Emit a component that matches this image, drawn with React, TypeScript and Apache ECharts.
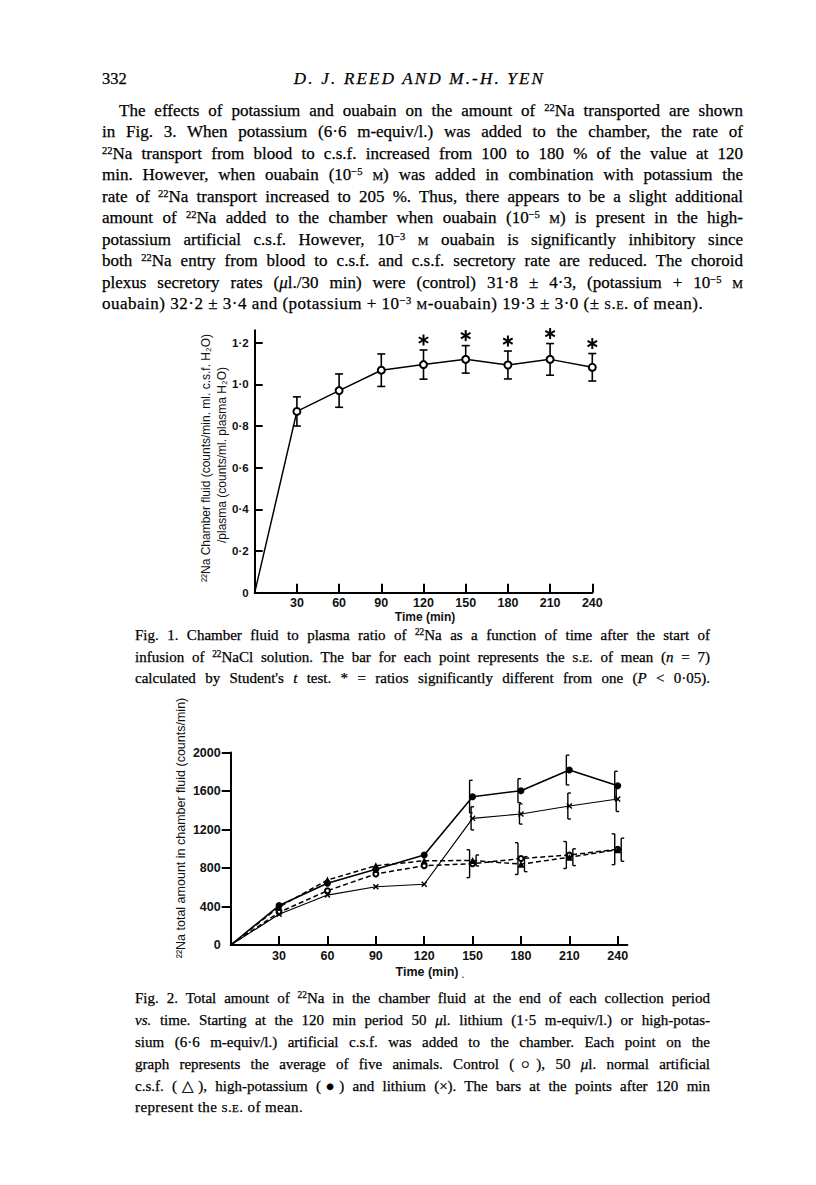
import React, { useEffect, useRef } from "react";
import * as echarts from "echarts";

// ---------------- Figure 1 data ----------------
const fig1Times = [0, 30, 60, 90, 120, 150, 180, 210, 240];
const fig1Ratio = [0, 0.87, 0.97, 1.068, 1.095, 1.12, 1.093, 1.12, 1.082];
const fig1ErrTimes = [30, 60, 90, 120, 150, 180, 210, 240];
const fig1SE = [0.07, 0.08, 0.078, 0.07, 0.066, 0.067, 0.076, 0.066];
const fig1Significant = [120, 150, 180, 210, 240];
const fig1XTicks = [30, 60, 90, 120, 150, 180, 210, 240];
const fig1YTicks = [0, 0.2, 0.4, 0.6, 0.8, 1.0, 1.2];
const fig1YTickLabels = ["0", "0·2", "0·4", "0·6", "0·8", "1·0", "1·2"];

// ---------------- Figure 2 data ----------------
const fig2Times = [0, 30, 60, 90, 120, 150, 180, 210, 240];
const fig2Control = [0, 340, 564, 738, 824, 845, 898, 935, 995];
const fig2Normal = [0, 395, 675, 824, 875, 878, 840, 912, 990];
const fig2HighK = [0, 410, 641, 786, 935, 1541, 1603, 1818, 1655];
const fig2Lithium = [0, 320, 519, 605, 631, 1316, 1361, 1444, 1517];
const fig2ErrTimes = [150, 180, 210, 240];
const fig2HighKSE = [170, 125, 155, 150];
const fig2LithiumSE = [120, 105, 135, 130];
const fig2ControlSE = [145, 165, 140, 160];
const fig2NormalSE = [57, 78, 87, 120];
const fig2XTicks = [30, 60, 90, 120, 150, 180, 210, 240];
const fig2YTicks = [0, 400, 800, 1200, 1600, 2000];
const fig2YTickLabels = ["0", "400", "800", "1200", "1600", "2000"];

// ---------------- Page text ----------------
const pageNumber = "332";
const runningHead = "D. J. REED AND M.-H. YEN";
const SC = (s: string) => `<span class="sc">${s}</span>`;
const SUP = (s: string) => `<sup>${s}</sup>`;
const paragraphLines = [
  `The effects of potassium and ouabain on the amount of ${SUP("22")}Na transported are shown`,
  `in Fig. 3. When potassium (6·6 m-equiv/l.) was added to the chamber, the rate of`,
  `${SUP("22")}Na transport from blood to c.s.f. increased from 100 to 180 % of the value at 120`,
  `min. However, when ouabain (10${SUP("−5")} ${SC("m")}) was added in combination with potassium the`,
  `rate of ${SUP("22")}Na transport increased to 205 %. Thus, there appears to be a slight additional`,
  `amount of ${SUP("22")}Na added to the chamber when ouabain (10${SUP("−5")} ${SC("m")}) is present in the high-`,
  `potassium artificial c.s.f. However, 10${SUP("−3")} ${SC("m")} ouabain is significantly inhibitory since`,
  `both ${SUP("22")}Na entry from blood to c.s.f. and c.s.f. secretory rate are reduced. The choroid`,
  `plexus secretory rates (<i>μ</i>l./30 min) were (control) 31·8 ± 4·3, (potassium + 10${SUP("−5")} ${SC("m")}`,
  `ouabain) 32·2 ± 3·4 and (potassium + 10${SUP("−3")} ${SC("m")}-ouabain) 19·3 ± 3·0 (± ${SC("s.e.")} of mean).`,
];
const fig1CaptionLines = [
  `Fig. 1. Chamber fluid to plasma ratio of ${SUP("22")}Na as a function of time after the start of`,
  `infusion of ${SUP("22")}NaCl solution. The bar for each point represents the ${SC("s.e.")} of mean (<i>n</i> = 7)`,
  `calculated by Student's <i>t</i> test. * = ratios significantly different from one (<i>P</i> &lt; 0·05).`,
];
const fig2CaptionLines = [
  `Fig. 2. Total amount of ${SUP("22")}Na in the chamber fluid at the end of each collection period`,
  `<i>vs.</i> time. Starting at the 120 min period 50 <i>μ</i>l. lithium (1·5 m-equiv/l.) or high-potas-`,
  `sium (6·6 m-equiv/l.) artificial c.s.f. was added to the chamber. Each point on the`,
  `graph represents the average of five animals. Control (○), 50 <i>μ</i>l. normal artificial`,
  `c.s.f. (△), high-potassium (●) and lithium (×). The bars at the points after 120 min`,
  `represent the ${SC("s.e.")} of mean.`,
];
const fig1YName1 = "²²Na Chamber fluid (counts/min. ml. c.s.f. H₂O)";
const fig1YName2 = "/plasma (counts/ml. plasma H₂O)";
const fig2YName = "²²Na total amount in chamber fluid (counts/min)";
const xName = "Time (min)";

const SANS = "'Liberation Sans', Arial, Helvetica, sans-serif";
const SERIF = "'Liberation Serif', 'Times New Roman', serif";
const INK = "#111";

const css = `
.pg sup { font-size: 0.62em; vertical-align: 0.5em; line-height: 0; }
.pg .sc { font-variant: small-caps; }
`;

function topFor(center: number, fs: number, lh: number) {
  return center - (lh - 1.107 * fs) / 2 - 0.891 * fs + 0.23 * fs;
}

function Line(props: {
  html: string; left: number; width: number; center: number; fs: number;
  lh: number; justify: boolean; italic?: boolean; align?: string; ls?: number;
}) {
  const { html, left, width, center, fs, lh, justify, italic, align, ls } = props;
  return (
    <div
      style={{
        position: "absolute",
        left,
        width,
        top: topFor(center, fs, lh),
        fontFamily: SERIF,
        fontSize: fs,
        lineHeight: `${lh}px`,
        whiteSpace: "nowrap",
        textAlign: (justify ? "justify" : align || "left") as any,
        textAlignLast: (justify ? "justify" : align || "left") as any,
        fontStyle: italic ? "italic" : "normal",
        letterSpacing: ls ? `${ls}px` : undefined,
        color: "#000",
        WebkitTextStroke: "0.25px #000",
      }}
      dangerouslySetInnerHTML={{ __html: html }}
    />
  );
}

function makeErrorBar(capHalf: number) {
  return (params: any, api: any) => {
    const x = api.value(0);
    const lo = api.coord([x, api.value(1)]);
    const hi = api.coord([x, api.value(2)]);
    const st = { stroke: "#000", lineWidth: 1.6 };
    return {
      type: "group",
      children: [
        { type: "line", shape: { x1: lo[0], y1: lo[1], x2: hi[0], y2: hi[1] }, style: st },
        { type: "line", shape: { x1: hi[0] - capHalf, y1: hi[1], x2: hi[0] + capHalf, y2: hi[1] }, style: st },
        { type: "line", shape: { x1: lo[0] - capHalf, y1: lo[1], x2: lo[0] + capHalf, y2: lo[1] }, style: st },
      ],
    };
  };
}

function makeBracket(dx: number, tab: number) {
  return (params: any, api: any) => {
    const x = api.value(0);
    const lo = api.coord([x, api.value(1)]);
    const hi = api.coord([x, api.value(2)]);
    const vx = lo[0] + dx;
    const st = { stroke: "#000", lineWidth: 1.4 };
    return {
      type: "group",
      children: [
        { type: "line", shape: { x1: vx, y1: lo[1], x2: vx, y2: hi[1] }, style: st },
        { type: "line", shape: { x1: vx, y1: hi[1], x2: vx + tab, y2: hi[1] }, style: st },
        { type: "line", shape: { x1: vx, y1: lo[1], x2: vx + tab, y2: lo[1] }, style: st },
      ],
    };
  };
}

function asteriskRender(params: any, api: any) {
  const x = api.value(0);
  const p = api.coord([x, api.value(1)]);
  const cx = p[0];
  const cy = p[1] - 10;
  const r = 5.5;
  const c = r * Math.cos(Math.PI / 6);
  const s = r * Math.sin(Math.PI / 6);
  const st = { stroke: "#000", lineWidth: 2 };
  return {
    type: "group",
    children: [
      { type: "line", shape: { x1: cx, y1: cy - r, x2: cx, y2: cy + r }, style: st },
      { type: "line", shape: { x1: cx - c, y1: cy - s, x2: cx + c, y2: cy + s }, style: st },
      { type: "line", shape: { x1: cx - c, y1: cy + s, x2: cx + c, y2: cy - s }, style: st },
    ],
  };
}

const LITHIUM_X = "path://M0,1.6L1.6,0L5,3.4L8.4,0L10,1.6L6.6,5L10,8.4L8.4,10L5,6.6L1.6,10L0,8.4L3.4,5Z";

function buildOption() {
  const axisLine = { show: true, onZero: false, lineStyle: { color: "#000", width: 2 } };
  const labelBase = { color: INK, fontFamily: SANS, fontSize: 12.5, fontWeight: "bold" as const };
  const lookup = (ticks: number[], labels: string[]) => (v: number) => {
    const i = ticks.findIndex((t) => Math.abs(t - v) < 1e-6);
    return i >= 0 ? labels[i] : "";
  };
  const pts = (xs: number[], ys: number[], sym: string) =>
    xs.map((t, i) => ({ value: [t, ys[i]], symbol: i === 0 ? "none" : sym }));
  const errs = (ys: number[], se: number[]) =>
    fig2ErrTimes.map((t, i) => {
      const y = ys[fig2Times.indexOf(t)];
      return [t, y - se[i], y + se[i]];
    });

  return {
    animation: false,
    grid: [
      { left: 254.7, top: 330.2, width: 337.6, height: 262.5 },
      { left: 230.7, top: 752.5, width: 396.7, height: 192.5 },
    ],
    xAxis: [
      {
        gridIndex: 0, type: "value", min: 0, max: 240,
        axisLine,
        axisTick: { show: true, inside: true, length: 9, customValues: fig1XTicks, lineStyle: { color: "#000", width: 2 } },
        axisLabel: { ...labelBase, customValues: fig1XTicks, formatter: (v: number) => String(v), margin: 4 },
        splitLine: { show: false },
      },
      {
        gridIndex: 1, type: "value", min: 0, max: 246,
        axisLine,
        axisTick: { show: true, inside: true, length: 9, customValues: fig2XTicks, lineStyle: { color: "#000", width: 2 } },
        axisLabel: { ...labelBase, customValues: fig2XTicks, formatter: (v: number) => String(v), margin: 4 },
        splitLine: { show: false },
      },
    ],
    yAxis: [
      {
        gridIndex: 0, type: "value", min: 0, max: 1.26,
        axisLine,
        axisTick: { show: true, inside: true, length: 8, customValues: fig1YTicks.slice(1), lineStyle: { color: "#000", width: 2 } },
        axisLabel: { ...labelBase, fontSize: 11.5, customValues: fig1YTicks, formatter: lookup(fig1YTicks, fig1YTickLabels), margin: 6 },
        splitLine: { show: false },
      },
      {
        gridIndex: 1, type: "value", min: 0, max: 2000,
        axisLine,
        axisTick: { show: true, inside: false, length: 9, customValues: fig2YTicks.slice(1), lineStyle: { color: "#000", width: 2 } },
        axisLabel: { ...labelBase, customValues: fig2YTicks, formatter: lookup(fig2YTicks, fig2YTickLabels), margin: 10 },
        splitLine: { show: false },
      },
    ],
    series: [
      // ---- Figure 1 ----
      {
        type: "custom", xAxisIndex: 0, yAxisIndex: 0, z: 1,
        renderItem: makeErrorBar(4),
        data: fig1ErrTimes.map((t, i) => {
          const y = fig1Ratio[fig1Times.indexOf(t)];
          return [t, y - fig1SE[i], y + fig1SE[i]];
        }),
      },
      {
        type: "custom", xAxisIndex: 0, yAxisIndex: 0, z: 1,
        renderItem: asteriskRender,
        data: fig1Significant.map((t) => {
          const i = fig1ErrTimes.indexOf(t);
          return [t, fig1Ratio[fig1Times.indexOf(t)] + fig1SE[i]];
        }),
      },
      {
        type: "line", xAxisIndex: 0, yAxisIndex: 0, z: 3,
        data: pts(fig1Times, fig1Ratio, "emptyCircle"),
        symbolSize: 7,
        itemStyle: { color: "#000", borderColor: "#000", borderWidth: 1.5 },
        lineStyle: { color: "#000", width: 1.5 },
      },
      // ---- Figure 2 ----
      {
        type: "line", xAxisIndex: 1, yAxisIndex: 1, z: 3,
        data: pts(fig2Times, fig2Control, "emptyCircle"),
        symbolSize: 5,
        itemStyle: { color: "#000", borderColor: "#000", borderWidth: 1.3 },
        lineStyle: { color: "#000", width: 1.5, type: [5, 3] },
      },
      {
        type: "line", xAxisIndex: 1, yAxisIndex: 1, z: 3,
        data: pts(fig2Times, fig2Normal, "triangle"),
        symbolSize: 7,
        itemStyle: { color: "#000" },
        lineStyle: { color: "#000", width: 1.5, type: [5, 3] },
      },
      {
        type: "line", xAxisIndex: 1, yAxisIndex: 1, z: 3,
        data: pts(fig2Times, fig2HighK, "circle"),
        symbolSize: 7,
        itemStyle: { color: "#000" },
        lineStyle: { color: "#000", width: 1.6 },
      },
      {
        type: "line", xAxisIndex: 1, yAxisIndex: 1, z: 3,
        data: pts(fig2Times, fig2Lithium, LITHIUM_X),
        symbolSize: 6,
        itemStyle: { color: "#000" },
        lineStyle: { color: "#000", width: 1.2 },
      },
      { type: "custom", xAxisIndex: 1, yAxisIndex: 1, z: 2, renderItem: makeBracket(-3, 3), data: errs(fig2HighK, fig2HighKSE) },
      { type: "custom", xAxisIndex: 1, yAxisIndex: 1, z: 2, renderItem: makeBracket(-1.5, 3), data: errs(fig2Lithium, fig2LithiumSE) },
      { type: "custom", xAxisIndex: 1, yAxisIndex: 1, z: 2, renderItem: makeBracket(-3, -3), data: errs(fig2Control, fig2ControlSE) },
      { type: "custom", xAxisIndex: 1, yAxisIndex: 1, z: 2, renderItem: makeBracket(3.5, 3), data: errs(fig2Normal, fig2NormalSE) },
    ],
    graphic: [
      {
        type: "text", x: 206, y: 458, rotation: Math.PI / 2,
        style: { text: fig1YName1, fill: INK, fontFamily: SANS, fontSize: 12, align: "center", verticalAlign: "middle" },
      },
      {
        type: "text", x: 222, y: 455, rotation: Math.PI / 2,
        style: { text: fig1YName2, fill: INK, fontFamily: SANS, fontSize: 12, align: "center", verticalAlign: "middle" },
      },
      {
        type: "text", x: 425, y: 617,
        style: { text: xName, fill: INK, fontFamily: SANS, fontSize: 12, fontWeight: "bold", align: "center", verticalAlign: "middle" },
      },
      {
        type: "text", x: 181, y: 828, rotation: Math.PI / 2,
        style: { text: fig2YName, fill: INK, fontFamily: SANS, fontSize: 12.5, align: "center", verticalAlign: "middle" },
      },
      {
        type: "text", x: 427, y: 972,
        style: { text: xName, fill: INK, fontFamily: SANS, fontSize: 12.5, fontWeight: "bold", align: "center", verticalAlign: "middle" },
      },
      {
        type: "text", x: 463, y: 974,
        style: { text: ".", fill: INK, fontFamily: SANS, fontSize: 12, align: "center", verticalAlign: "middle" },
      },
    ],
  };
}

export default function App() {
  const ref = useRef<HTMLDivElement>(null);
  useEffect(() => {
    if (!ref.current) return;
    const chart = echarts.init(ref.current, null, { renderer: "svg" });
    chart.setOption(buildOption() as any);
    return () => chart.dispose();
  }, []);

  const paraLeft = 102, paraRight = 743;
  const capLeft = 135, capRight = 710;
  return (
    <div className="pg" style={{ position: "absolute", left: 0, top: 0, width: 816, height: 1185, background: "#fff", overflow: "hidden" }}>
      <style>{css}</style>
      <div ref={ref} style={{ position: "absolute", left: 0, top: 0, width: 816, height: 1185 }} />
      <Line html={pageNumber} left={paraLeft} width={60} center={81} fs={16.5} lh={22} justify={false} />
      <Line html={runningHead} left={paraLeft} width={paraRight - paraLeft - 6} center={81} fs={17} lh={22} justify={false} italic align="center" ls={2.2} />
      {paragraphLines.map((h, i) => {
        const last = i === paragraphLines.length - 1;
        return (
          <Line
            key={"p" + i}
            html={h}
            left={i === 0 ? paraLeft + 17 : paraLeft}
            width={i === 0 ? paraRight - paraLeft - 17 : paraRight - paraLeft}
            center={112.5 + 21.5 * i}
            fs={17}
            lh={22}
            justify={!last}
            ls={last ? 0.5 : undefined}
          />
        );
      })}
      {fig1CaptionLines.map((h, i) => (
        <Line key={"c1" + i} html={h} left={capLeft} width={capRight - capLeft} center={637 + 21.5 * i} fs={15} lh={20} justify={true} />
      ))}
      {fig2CaptionLines.map((h, i) => {
        const last = i === fig2CaptionLines.length - 1;
        return (
          <Line key={"c2" + i} html={h} left={capLeft} width={capRight - capLeft} center={1000 + 21.8 * i} fs={15} lh={20} justify={!last} ls={last ? 0.4 : undefined} />
        );
      })}
    </div>
  );
}
